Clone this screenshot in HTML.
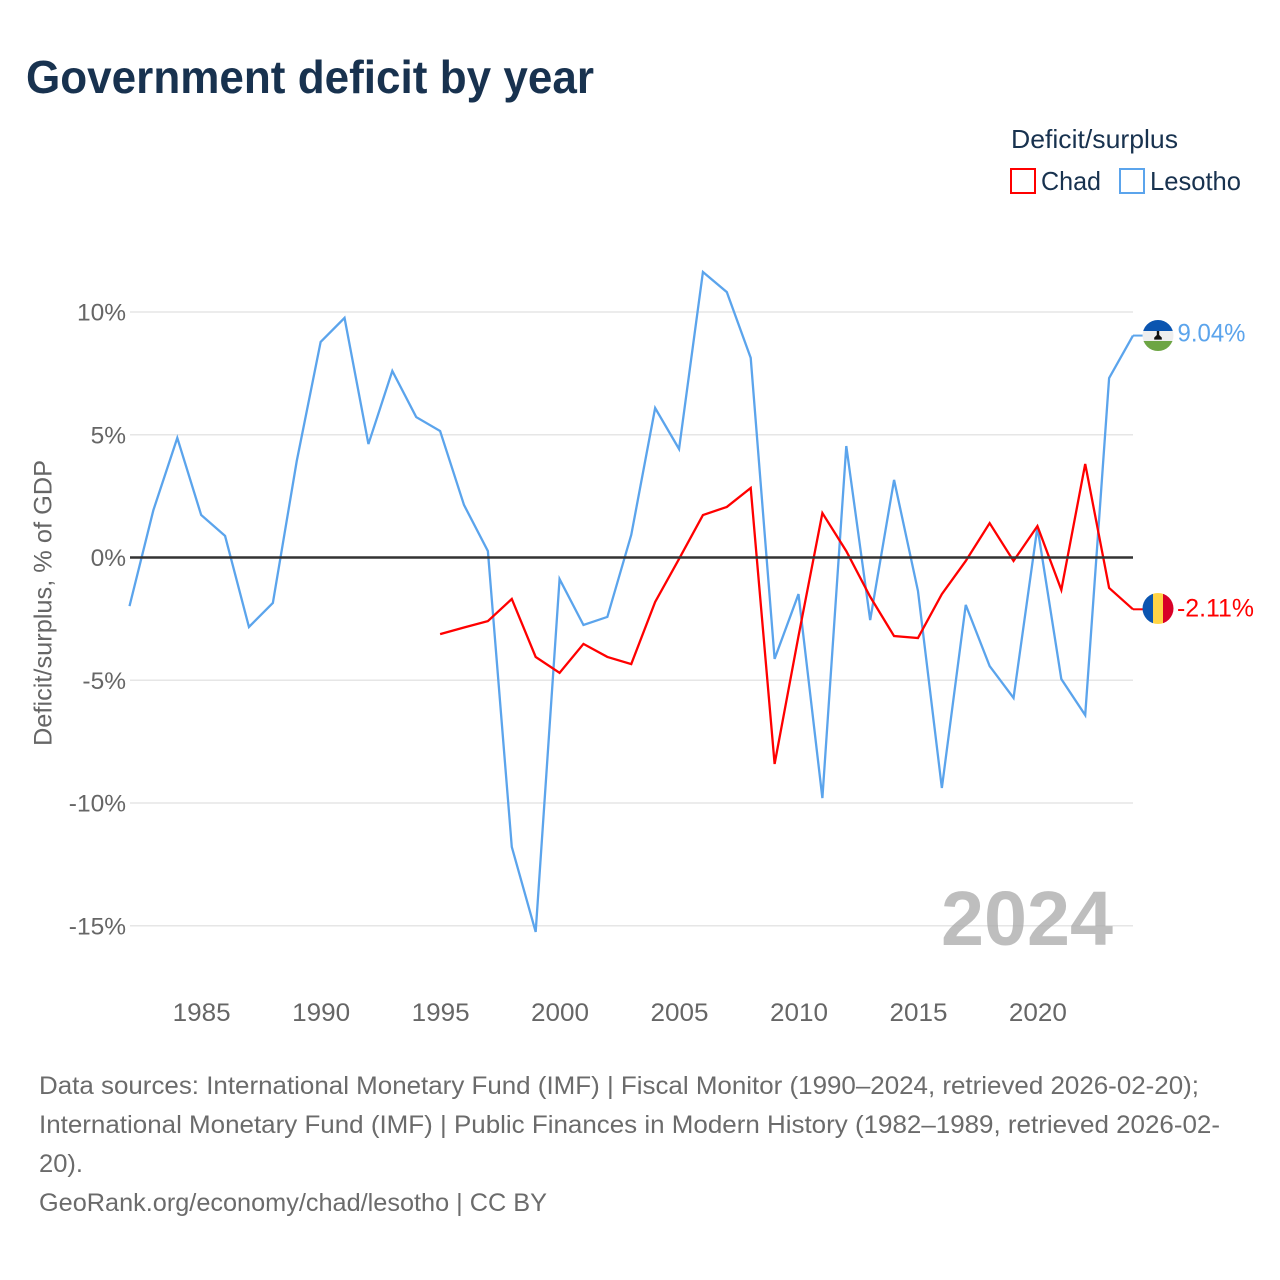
<!DOCTYPE html>
<html lang="en">
<head>
<meta charset="utf-8">
<title>Government deficit by year</title>
<style>
html,body{margin:0;padding:0;background:#fff;}
svg{display:block;}
text{font-family:"Liberation Sans",sans-serif;}
</style>
</head>
<body>
<svg id="chart" xmlns="http://www.w3.org/2000/svg" width="1280" height="1280" viewBox="0 0 1280 1280">
  <rect x="0" y="0" width="1280" height="1280" fill="#ffffff"/>
  <text x="26" y="93" font-size="46" font-weight="700" fill="#18324f" textLength="568" lengthAdjust="spacingAndGlyphs">Government deficit by year</text>

  <text x="1011" y="148" font-size="26" fill="#18324f" textLength="167" lengthAdjust="spacingAndGlyphs">Deficit/surplus</text>
  <rect x="1011" y="169" width="24" height="24" fill="#ffffff" stroke="#ff0000" stroke-width="2"/>
  <text x="1041" y="190" font-size="26" fill="#18324f" textLength="60" lengthAdjust="spacingAndGlyphs">Chad</text>
  <rect x="1120" y="169" width="24" height="24" fill="#ffffff" stroke="#5ba4ec" stroke-width="2"/>
  <text x="1150" y="190" font-size="26" fill="#18324f" textLength="91" lengthAdjust="spacingAndGlyphs">Lesotho</text>

  <text transform="translate(51.5,603) rotate(-90)" text-anchor="middle" font-size="25" fill="#666666" textLength="286" lengthAdjust="spacingAndGlyphs">Deficit/surplus, % of GDP</text>

  <g id="grid"></g>
  <g id="y-ticks"></g>
  <g id="x-ticks"></g>

  <text x="1113" y="945" text-anchor="end" font-size="77" font-weight="700" fill="#a8a8a8" fill-opacity="0.75" textLength="172" lengthAdjust="spacingAndGlyphs">2024</text>

  <g id="series"></g>
  <g id="end-labels"></g>

  <defs>
    <clipPath id="flag-clip-ls"><circle cx="1158" cy="335.5" r="15.5"/></clipPath>
    <clipPath id="flag-clip-td"><circle cx="1158" cy="608.5" r="15.5"/></clipPath>
  </defs>
  <g clip-path="url(#flag-clip-ls)">
    <rect x="1142" y="320" width="32" height="11" fill="#0b55b0"/>
    <rect x="1142" y="331" width="32" height="11" fill="#eeeeee"/>
    <rect x="1142" y="341" width="32" height="11" fill="#6da544"/>
    <path d="M1156.8 331h2.4v4l2.6 2.6v2h-7.6v-2l2.6-2.6z" fill="#111111"/>
  </g>
  <g clip-path="url(#flag-clip-td)">
    <rect x="1142" y="593" width="11" height="32" fill="#0b55b0"/>
    <rect x="1153" y="593" width="10" height="32" fill="#ffd445"/>
    <rect x="1163" y="593" width="11" height="32" fill="#d80027"/>
  </g>

  <g font-size="25" fill="#6b6b6b">
    <text x="39" y="1094" textLength="1160" lengthAdjust="spacingAndGlyphs">Data sources: International Monetary Fund (IMF) | Fiscal Monitor (1990–2024, retrieved 2026-02-20);</text>
    <text x="39" y="1133" textLength="1181" lengthAdjust="spacingAndGlyphs">International Monetary Fund (IMF) | Public Finances in Modern History (1982–1989, retrieved 2026-02-</text>
    <text x="39" y="1172" textLength="44" lengthAdjust="spacingAndGlyphs">20).</text>
    <text x="39" y="1211" textLength="508" lengthAdjust="spacingAndGlyphs">GeoRank.org/economy/chad/lesotho | CC BY</text>
  </g>
</svg>
<script>
const yearsLesotho = [1982,1983,1984,1985,1986,1987,1988,1989,1990,1991,1992,1993,1994,1995,1996,1997,1998,1999,2000,2001,2002,2003,2004,2005,2006,2007,2008,2009,2010,2011,2012,2013,2014,2015,2016,2017,2018,2019,2020,2021,2022,2023,2024];
const valuesLesotho = [-1.98,1.93,4.87,1.73,0.88,-2.83,-1.85,3.93,8.78,9.76,4.62,7.6,5.72,5.15,2.14,0.26,-11.79,-15.25,-0.88,-2.75,-2.42,0.92,6.09,4.42,11.63,10.81,8.13,-4.13,-1.49,-9.8,4.54,-2.55,3.16,-1.36,-9.39,-1.93,-4.42,-5.72,1.24,-4.95,-6.42,7.31,9.04];
const yearsChad = [1995,1996,1997,1998,1999,2000,2001,2002,2003,2004,2005,2006,2007,2008,2009,2010,2011,2012,2013,2014,2015,2016,2017,2018,2019,2020,2021,2022,2023,2024];
const valuesChad = [-3.12,-2.85,-2.59,-1.69,-4.05,-4.7,-3.52,-4.05,-4.34,-1.81,-0.06,1.73,2.06,2.83,-8.41,-3.2,1.81,0.26,-1.6,-3.2,-3.28,-1.49,-0.14,1.4,-0.14,1.28,-1.32,3.81,-1.24,-2.11];
const yTickValues = [10,5,0,-5,-10,-15];
const yTickLabels = ['10%','5%','0%','-5%','-10%','-15%'];
const xTickYears = [1985,1990,1995,2000,2005,2010,2015,2020];
const endLabelLesotho = '9.04%';
const endLabelChad = '-2.11%';

const NS = 'http://www.w3.org/2000/svg';
function xScale(year){ return 129.5 + (year - 1982) * (1133 - 129.5) / (2024 - 1982); }
function yScale(v){ return 557.5 - v * 24.55; }
function mk(tag, parent, attrs, txt){
  const el = document.createElementNS(NS, tag);
  for (const k in attrs) el.setAttribute(k, attrs[k]);
  if (txt !== undefined) el.textContent = txt;
  parent.appendChild(el);
  return el;
}
const grid = document.getElementById('grid');
const yTicks = document.getElementById('y-ticks');
const xTicks = document.getElementById('x-ticks');
const seriesG = document.getElementById('series');
const endG = document.getElementById('end-labels');

yTickValues.forEach(function(v, i){
  const y = yScale(v);
  if (v !== 0) {
    const line = mk('line', grid, {x1:130, x2:1133, y1:y, y2:y, stroke:'#e6e6e6', 'stroke-width':1.4});
    
    
  }
  const t = mk('text', yTicks, {x:126, y:y + 8.5, 'text-anchor':'end', 'font-size':24.5, fill:'#666666'}, yTickLabels[i]);
  
  
});
xTickYears.forEach(function(yr){
  const t = mk('text', xTicks, {x:xScale(yr) + 0.5, y:1021, 'text-anchor':'middle', 'font-size':25, fill:'#666666', textLength:58, lengthAdjust:'spacingAndGlyphs'}, String(yr));
  
  
});
function pathFor(years, values){
  return years.map(function(yr, i){ return xScale(yr).toFixed(2) + ',' + yScale(values[i]).toFixed(2); }).join(' ');
}
const lesothoLine = mk('polyline', seriesG, {points:pathFor(yearsLesotho, valuesLesotho), fill:'none', stroke:'#5ba4ec', 'stroke-width':2.3, 'stroke-linejoin':'miter'});


const chadLine = mk('polyline', seriesG, {points:pathFor(yearsChad, valuesChad), fill:'none', stroke:'#ff0000', 'stroke-width':2.3, 'stroke-linejoin':'miter'});


const zeroLine = mk('line', seriesG, {x1:130, x2:1133, y1:yScale(0), y2:yScale(0), stroke:'#333333', 'stroke-width':2.4});



const lastL = valuesLesotho[valuesLesotho.length - 1];
const lastC = valuesChad[valuesChad.length - 1];
const leaderL = mk('line', endG, {x1:1133, x2:1143, y1:yScale(lastL), y2:yScale(lastL), stroke:'#5ba4ec', 'stroke-width':2});


const leaderC = mk('line', endG, {x1:1133, x2:1143, y1:yScale(lastC), y2:yScale(lastC), stroke:'#ff0000', 'stroke-width':2});


const labelL = mk('text', endG, {x:1177.5, y:yScale(lastL) + 6, 'font-size':25, fill:'#5ba4ec', textLength:68, lengthAdjust:'spacingAndGlyphs'}, endLabelLesotho);


const labelC = mk('text', endG, {x:1177, y:yScale(lastC) + 7, 'font-size':25, fill:'#ff0000', textLength:77, lengthAdjust:'spacingAndGlyphs'}, endLabelChad);


</script>
</body>
</html>
